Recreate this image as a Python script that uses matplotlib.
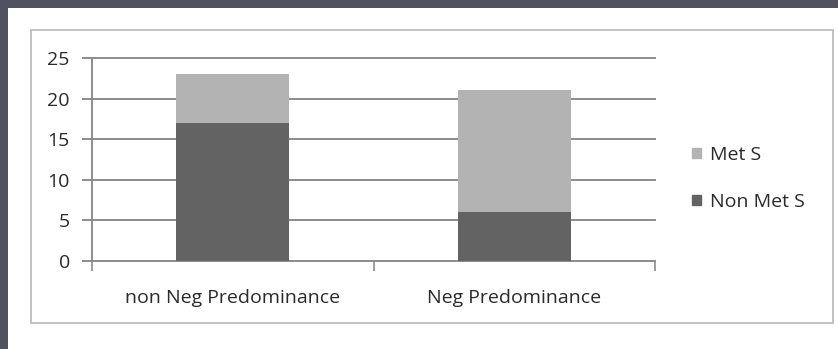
import numpy as np
import matplotlib
matplotlib.use("Agg")
import matplotlib.pyplot as plt
from matplotlib.patches import Rectangle, Patch

# donnees du graphique
groupes = ["non Neg Predominance", "Neg Predominance"]
non_met_s = [17, 6]
met_s = [6, 15]
yticks = [0, 5, 10, 15, 20, 25]

gris_fonce = "#636363"
gris_clair = "#b3b3b3"
gris_axe = "#8c8c8c"
texte = "#2a2a2a"
taille = 14

plt.rcParams["font.family"] = ["Open Sans", "DejaVu Sans"]

fig = plt.figure(figsize=(8.38, 3.49), dpi=100)
fig.patch.set_facecolor("#50525f")

W, H = 838.0, 349.0
# panneau blanc et cadre du graphique
fig.patches.append(Rectangle((8 / W, 0), 1, 1 - 8 / H, transform=fig.transFigure,
                             facecolor="white", edgecolor="none", zorder=0))
fig.patches.append(Rectangle((31 / W, 1 - 323 / H), (833 - 31) / W, (323 - 30) / H,
                             transform=fig.transFigure, facecolor="none",
                             edgecolor="#bdbdbd", lw=1.3, zorder=1))

ax = fig.add_axes([92 / W, 1 - 261 / H, (655 - 92) / W, (261 - 58) / H])
ax.set_facecolor("none")
ax.set_zorder(3)

x = np.arange(len(groupes))
ax.bar(x, non_met_s, width=0.4, color=gris_fonce, zorder=3)
ax.bar(x, met_s, width=0.4, bottom=non_met_s, color=gris_clair, zorder=3)

ax.set_xlim(-0.5, len(groupes) - 0.5)
ax.set_ylim(0, 25)
ax.set_yticks(yticks)
for v in yticks[1:]:
    ax.axhline(v, color=gris_axe, lw=1.4, zorder=1, clip_on=False)

ax.set_xticks(x)
ax.set_xticklabels(groupes)
ax.set_xticks(np.arange(len(groupes) + 1) - 0.5, minor=True)
ax.tick_params(axis="x", which="major", length=0, pad=20, labelsize=taille, labelcolor=texte)
ax.tick_params(axis="x", which="minor", length=7, width=1.2, color=gris_axe, direction="out")
ax.tick_params(axis="y", length=7, width=1.4, color=gris_axe, pad=9, labelsize=taille,
               labelcolor=texte)

for s in ["top", "right"]:
    ax.spines[s].set_visible(False)
for s in ["left", "bottom"]:
    ax.spines[s].set_color(gris_axe)
    ax.spines[s].set_linewidth(1.4)

poignees = [Patch(color=gris_clair, label="Met S"), Patch(color=gris_fonce, label="Non Met S")]
leg = fig.legend(handles=poignees, loc="center left", bbox_to_anchor=(692 / W, 1 - 178.5 / H),
                 frameon=False, fontsize=taille, handlelength=0.45, handleheight=0.45,
                 handletextpad=0.5, labelspacing=1.5, borderpad=0, borderaxespad=0,
                 labelcolor=texte)
leg.set_zorder(4)

fig.savefig("out.png", dpi=100, facecolor=fig.get_facecolor())
